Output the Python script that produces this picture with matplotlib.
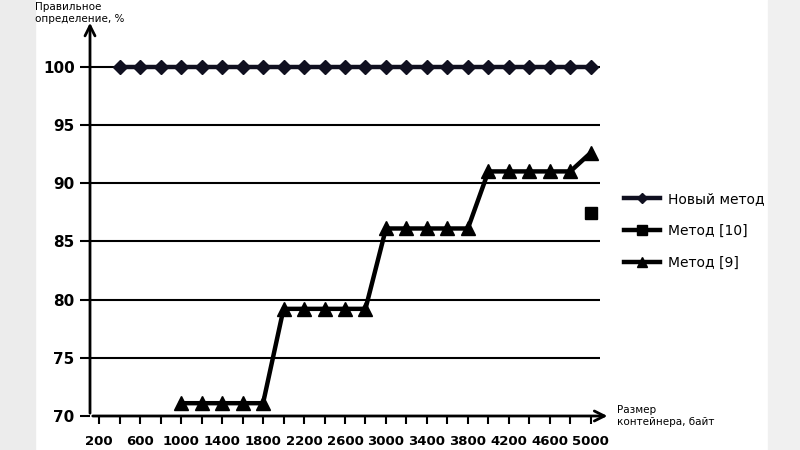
import matplotlib.pyplot as plt
from matplotlib.patches import Rectangle

# Data
sizes = list(range(200, 5001, 200))
new_method_sizes = list(range(400, 5001, 200))
new_method = [100] * len(new_method_sizes)
method9_sizes = list(range(1000, 5001, 200))
method9 = [71.1, 71.1, 71.1, 71.1, 71.1,
           79.2, 79.2, 79.2, 79.2, 79.2,
           86.1, 86.1, 86.1, 86.1, 86.1,
           91.0, 91.0, 91.0, 91.0, 91.0,
           92.6]
method10_sizes = [5000]
method10 = [87.4]
tick_labels = [str(s) if (s - 200) % 400 == 0 else "" for s in sizes]
y_ticks = [70, 75, 80, 85, 90, 95, 100]


def idx(values):
    return [sizes.index(v) for v in values]


fig = plt.figure(figsize=(8, 4.5), dpi=100)
W, H = 800, 450

# faint video-frame shading at the edges
fig.patches.append(Rectangle((0, 0), 35 / W, 1, transform=fig.transFigure,
                             color="#ececec", zorder=0))
fig.patches.append(Rectangle((768 / W, 0), 32 / W, 1, transform=fig.transFigure,
                             color="#f0f0f0", zorder=0))

ax = fig.add_axes([90 / W, (H - 416) / H, (600 - 90) / W, (416 - 20) / H])
ax.set_facecolor("none")
ax.set_xlim(-0.45, len(sizes) - 0.55)
ax.set_ylim(70, 104)

for y in y_ticks[1:]:
    ax.axhline(y, color="black", linewidth=1.5, zorder=1)

ax.plot(idx(new_method_sizes), new_method, color="#101020", linewidth=3.2,
        marker="D", markersize=7, label="Новый метод", zorder=4)
ax.plot(idx(method10_sizes), method10, color="black", linewidth=3.2,
        marker="s", markersize=9, label="Метод [10]", zorder=3)
ax.plot(idx(method9_sizes), method9, color="black", linewidth=3.2,
        marker="^", markersize=10, label="Метод [9]", zorder=3)

for s in ax.spines.values():
    s.set_visible(False)

ax.set_xticks(range(len(sizes)))
ax.set_xticklabels(tick_labels, fontsize=9.5, fontweight="bold")
ax.set_yticks(y_ticks)
ax.set_yticklabels([str(v) for v in y_ticks], fontsize=11, fontweight="bold")
ax.tick_params(axis="x", length=6, width=1.5, pad=8)
ax.tick_params(axis="y", length=7, width=1.5, pad=4)

# axis lines with open arrowheads
ax.annotate("", xy=(1.02, 0), xytext=(0, 0), xycoords="axes fraction",
            arrowprops=dict(arrowstyle="->", lw=2, color="black",
                            mutation_scale=18), annotation_clip=False)
ax.annotate("", xy=(0, 1.0), xytext=(0, 0), xycoords="axes fraction",
            arrowprops=dict(arrowstyle="->", lw=2, color="black",
                            mutation_scale=18), annotation_clip=False)

fig.text(35 / W, 1 - 2 / H, "Правильное\nопределение, %", fontsize=7.5,
         va="top", ha="left", linespacing=1.3)
fig.text(617 / W, 1 - 416 / H, "Размер\nконтейнера, байт", fontsize=7.5,
         va="center", ha="left", linespacing=1.3)

ax.legend(loc="upper left", bbox_to_anchor=(624 / W, 1 - 192 / H),
          bbox_transform=fig.transFigure, frameon=False, fontsize=10,
          handlelength=2.6, handletextpad=0.6, labelspacing=1.3,
          markerscale=0.75, borderpad=0, borderaxespad=0)

plt.savefig("out.png", dpi=100)
plt.close()
